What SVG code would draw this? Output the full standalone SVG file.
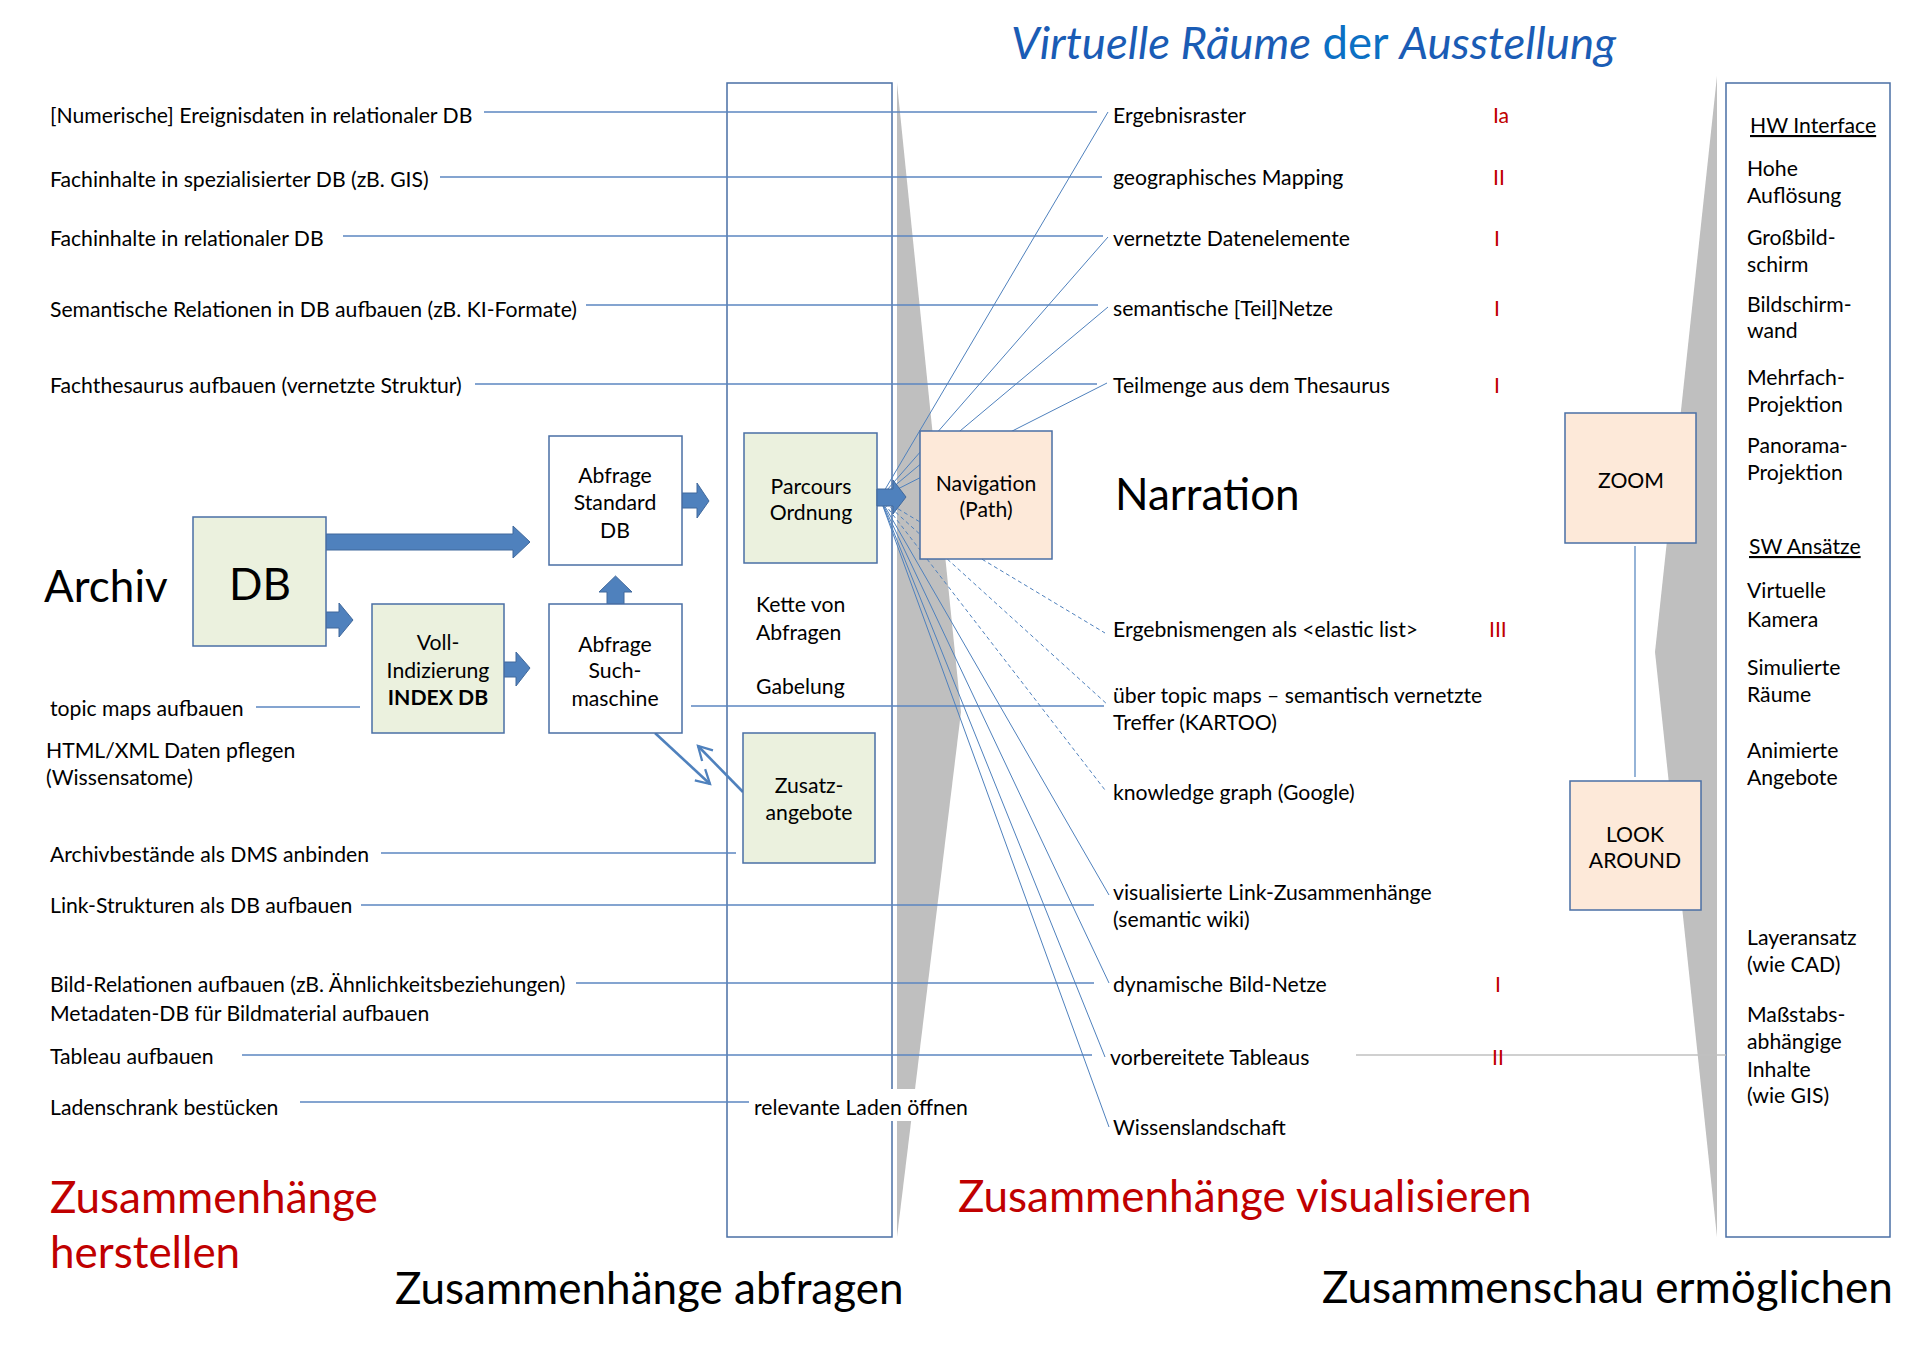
<svg xmlns="http://www.w3.org/2000/svg" width="1920" height="1357" viewBox="0 0 1920 1357">
<style>
text{font-family:Lato,"Open Sans",sans-serif;fill:#000}
.s{font-size:21.2px}
.b{font-size:44px}
.c{text-anchor:middle}
.red{fill:#c00000}
.hl{stroke:#5b86c0;stroke-width:1.4;fill:none}
.fan{stroke:#4f81bd;stroke-width:1;fill:none}
.dash{stroke:#4f81bd;stroke-width:1;fill:none;stroke-dasharray:4 3}
.green{fill:#ebf1de;stroke:#4a6fa5;stroke-width:1.5}
.white{fill:#fff;stroke:#4a6fa5;stroke-width:1.5}
.peach{fill:#fde9d9;stroke:#4a6fa5;stroke-width:1.5}
.arr{fill:#4f81bd;stroke:#41699c;stroke-width:1}
.dbl{stroke:#4f81bd;stroke-width:2.6;fill:none}
</style>
<defs>
<marker id="open" viewBox="0 0 12 12" refX="10" refY="6" markerWidth="7" markerHeight="7" orient="auto" markerUnits="strokeWidth">
<path d="M1,1 L10,6 L1,11" fill="none" stroke="#4f81bd" stroke-width="1.5"/>
</marker>
</defs>
<rect width="1920" height="1357" fill="#fff"/>

<g id="background">
<polygon points="897,83 961,712 897,1237" fill="#bfbfbf"/>
<polygon points="1717,76 1655,652 1717,1237" fill="#bfbfbf"/>
<rect x="727" y="83" width="165" height="1154" fill="none" stroke="#4a6fa5" stroke-width="1.5"/>
<rect x="1726" y="83" width="164" height="1154" fill="none" stroke="#4a6fa5" stroke-width="1.5"/>
</g>

<g id="connectors">
<line class="hl" x1="484" y1="112" x2="1097" y2="112"/>
<line class="hl" x1="440" y1="177" x2="1102" y2="177"/>
<line class="hl" x1="343" y1="236" x2="1103" y2="236"/>
<line class="hl" x1="586" y1="305" x2="1098" y2="305"/>
<line class="hl" x1="475" y1="384" x2="1097" y2="384"/>
<line class="hl" x1="691" y1="706" x2="1104" y2="706"/>
<line class="hl" x1="256" y1="707" x2="360" y2="707"/>
<line class="hl" x1="381" y1="853" x2="736" y2="853"/>
<line class="hl" x1="361" y1="905" x2="1094" y2="905"/>
<line class="hl" x1="576" y1="983" x2="1094" y2="983"/>
<line class="hl" x1="242" y1="1055" x2="1092" y2="1055"/>
<line class="hl" x1="300" y1="1102" x2="749" y2="1102"/>
<line x1="1356" y1="1055" x2="1726" y2="1055" stroke="#c0c0c0" stroke-width="1.5"/>
<line x1="1635" y1="546" x2="1635" y2="777" stroke="#4f81bd" stroke-width="1.2"/>
<line class="fan" x1="880" y1="498" x2="1108" y2="112"/>
<line class="fan" x1="880" y1="498" x2="1108" y2="237"/>
<line class="fan" x1="880" y1="498" x2="1108" y2="307"/>
<line class="fan" x1="880" y1="498" x2="1107" y2="383"/>
<line class="fan" x1="880" y1="498" x2="1109" y2="895"/>
<line class="fan" x1="880" y1="498" x2="1109" y2="983"/>
<line class="fan" x1="880" y1="498" x2="1105" y2="1057"/>
<line class="fan" x1="880" y1="498" x2="1109" y2="1127"/>
<line class="dash" x1="880" y1="498" x2="1105" y2="633"/>
<line class="dash" x1="880" y1="498" x2="1108" y2="705"/>
<line class="dash" x1="880" y1="498" x2="1105" y2="790"/>
<line class="dbl" x1="655" y1="733" x2="710" y2="784" marker-end="url(#open)"/>
<line class="dbl" x1="743" y1="792" x2="698" y2="746" marker-end="url(#open)"/>
<polygon class="arr" points="326,534 513,534 513,526 530,542 513,558 513,550 326,550"/>
<polygon class="arr" points="326,612 339,612 339,603 353,620 339,637 339,628 326,628"/>
<polygon class="arr" points="504,662 516,662 516,652 530,668 516,686 516,677 504,677"/>
<polygon class="arr" points="682,493 697,493 697,483 709,501 697,518 697,508 682,508"/>
<polygon class="arr" points="607,604 607,592 599,592 615.5,576 632,592 624,592 624,604"/>
</g>

<g id="db"><rect class="green" x="193" y="517" width="133" height="129"/><text class="b c" x="260" y="600">DB</text></g>
<g id="voll"><rect class="green" x="372" y="604" width="132" height="129"/>
<text class="s c" x="438" y="650">Voll-</text><text class="s c" x="438" y="678">Indizierung</text><text class="s c" x="438" y="705" font-weight="bold">INDEX DB</text></g>
<g id="standard"><rect class="white" x="549" y="436" width="133" height="129"/>
<text class="s c" x="615" y="483">Abfrage</text><text class="s c" x="615" y="510">Standard</text><text class="s c" x="615" y="538">DB</text></g>
<g id="such"><rect class="white" x="549" y="604" width="133" height="129"/>
<text class="s c" x="615" y="652">Abfrage</text><text class="s c" x="615" y="678">Such-</text><text class="s c" x="615" y="706">maschine</text></g>
<g id="parcours"><rect class="green" x="744" y="433" width="133" height="130"/>
<text class="s c" x="811" y="494">Parcours</text><text class="s c" x="811" y="520">Ordnung</text></g>
<polygon class="arr" points="877,489 893,489 893,480 906,497 893,514 893,506 877,506"/>
<g id="zusatz"><rect class="green" x="743" y="733" width="132" height="130"/>
<text class="s c" x="809" y="793">Zusatz-</text><text class="s c" x="809" y="820">angebote</text></g>
<g id="navigation"><rect class="peach" x="920" y="431" width="132" height="128"/>
<text class="s c" x="986" y="491">Navigation</text><text class="s c" x="986" y="517">(Path)</text></g>
<g id="zoom"><rect class="peach" x="1565" y="413" width="131" height="130"/><text class="s c" x="1631" y="488">ZOOM</text></g>
<g id="lookaround"><rect class="peach" x="1570" y="781" width="131" height="129"/>
<text class="s c" x="1635" y="842">LOOK</text><text class="s c" x="1635" y="868">AROUND</text></g>

<g id="title"><text x="1011" y="59" font-size="45.5"><tspan font-style="italic" fill="#1a5cb5">Virtuelle Räume</tspan><tspan fill="#0b70c4"> der </tspan><tspan font-style="italic" fill="#1a5cb5">Ausstellung</tspan></text></g>

<g id="left-labels">
<text class="s" x="50" y="123">[Numerische] Ereignisdaten in relationaler DB</text>
<text class="s" x="50" y="187">Fachinhalte in spezialisierter DB (zB. GIS)</text>
<text class="s" x="50" y="246">Fachinhalte in relationaler DB</text>
<text class="s" x="50" y="317">Semantische Relationen in DB aufbauen (zB. KI-Formate)</text>
<text class="s" x="50" y="393">Fachthesaurus aufbauen (vernetzte Struktur)</text>
<text class="b" x="44" y="602">Archiv</text>
<text class="s" x="50" y="716">topic maps aufbauen</text>
<text class="s" x="46" y="758">HTML/XML Daten pflegen</text>
<text class="s" x="46" y="785">(Wissensatome)</text>
<text class="s" x="50" y="862">Archivbestände als DMS anbinden</text>
<text class="s" x="50" y="913">Link-Strukturen als DB aufbauen</text>
<text class="s" x="50" y="992">Bild-Relationen aufbauen (zB. Ähnlichkeitsbeziehungen)</text>
<text class="s" x="50" y="1021">Metadaten-DB für Bildmaterial aufbauen</text>
<text class="s" x="50" y="1064">Tableau aufbauen</text>
<text class="s" x="50" y="1115">Ladenschrank bestücken</text>
<text class="b red" x="50" y="1213">Zusammenhänge</text>
<text class="b red" x="50" y="1268">herstellen</text>
</g>

<g id="middle-labels">
<text class="s" x="756" y="612">Kette von</text>
<text class="s" x="756" y="640">Abfragen</text>
<text class="s" x="756" y="694">Gabelung</text>
<rect x="750" y="1089" width="225" height="32" fill="#fff"/>
<text class="s" x="754" y="1115">relevante Laden öffnen</text>
<text class="b" x="395" y="1304">Zusammenhänge abfragen</text>
</g>

<g id="right-labels">
<text class="s" x="1113" y="123">Ergebnisraster</text>
<text class="s" x="1113" y="185">geographisches Mapping</text>
<text class="s" x="1113" y="246">vernetzte Datenelemente</text>
<text class="s" x="1113" y="316">semantische [Teil]Netze</text>
<text class="s" x="1113" y="393">Teilmenge aus dem Thesaurus</text>
<text class="b" x="1115" y="510">Narration</text>
<text class="s" x="1113" y="637">Ergebnismengen als &lt;elastic list&gt;</text>
<text class="s" x="1113" y="703">über topic maps – semantisch vernetzte</text>
<text class="s" x="1113" y="730">Treffer (KARTOO)</text>
<text class="s" x="1113" y="800">knowledge graph (Google)</text>
<text class="s" x="1113" y="900">visualisierte Link-Zusammenhänge</text>
<text class="s" x="1113" y="927">(semantic wiki)</text>
<text class="s" x="1113" y="992">dynamische Bild-Netze</text>
<text class="s" x="1110" y="1065">vorbereitete Tableaus</text>
<text class="s" x="1113" y="1135">Wissenslandschaft</text>
<text class="b red" x="958" y="1212">Zusammenhänge visualisieren</text>
<text class="b" x="1322" y="1303">Zusammenschau ermöglichen</text>
</g>

<g id="ratings">
<text class="s red" x="1493" y="123">Ia</text>
<text class="s red" x="1493" y="185">II</text>
<text class="s red" x="1494" y="246">I</text>
<text class="s red" x="1494" y="316">I</text>
<text class="s red" x="1494" y="393">I</text>
<text class="s red" x="1489" y="637">III</text>
<text class="s red" x="1495" y="992">I</text>
<text class="s red" x="1492" y="1065">II</text>
</g>

<g id="screen-box">
<text class="s" x="1750" y="133" text-decoration="underline">HW Interface</text>
<text class="s" x="1747" y="176">Hohe</text><text class="s" x="1747" y="203">Auflösung</text>
<text class="s" x="1747" y="245">Großbild-</text><text class="s" x="1747" y="272">schirm</text>
<text class="s" x="1747" y="312">Bildschirm-</text><text class="s" x="1747" y="338">wand</text>
<text class="s" x="1747" y="385">Mehrfach-</text><text class="s" x="1747" y="412">Projektion</text>
<text class="s" x="1747" y="453">Panorama-</text><text class="s" x="1747" y="480">Projektion</text>
<text class="s" x="1749" y="554" text-decoration="underline">SW Ansätze</text>
<text class="s" x="1747" y="598">Virtuelle</text><text class="s" x="1747" y="627">Kamera</text>
<text class="s" x="1747" y="675">Simulierte</text><text class="s" x="1747" y="702">Räume</text>
<text class="s" x="1747" y="758">Animierte</text><text class="s" x="1747" y="785">Angebote</text>
<text class="s" x="1747" y="945">Layeransatz</text><text class="s" x="1747" y="972">(wie CAD)</text>
<text class="s" x="1747" y="1022">Maßstabs-</text><text class="s" x="1747" y="1049">abhängige</text><text class="s" x="1747" y="1077">Inhalte</text><text class="s" x="1747" y="1103">(wie GIS)</text>
</g>
</svg>
